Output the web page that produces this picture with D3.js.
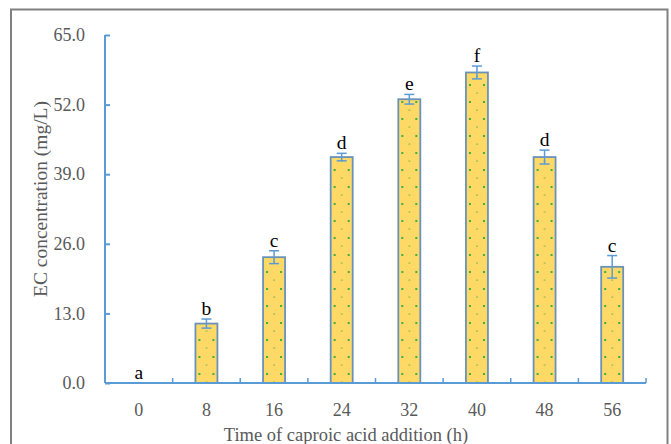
<!DOCTYPE html>
<html><head><meta charset="utf-8">
<script src="https://cdn.jsdelivr.net/npm/d3@7"></script>
<style>body{margin:0;background:#fff}svg{display:block}
text{font-family:"Liberation Serif","Times New Roman","DejaVu Serif",serif !important;}</style>
</head><body>
<svg id="c" width="671" height="444"></svg>
<script>
const categories = ["0","8","16","24","32","40","48","56"];
const values = [0, 11.1, 23.5, 42.2, 53.0, 58.0, 42.2, 21.7];
const errors = [0, 0.85, 1.2, 0.7, 0.9, 1.2, 1.3, 2.1];
const letters = ["a","b","c","d","e","f","d","c"];
const yTicks = [0, 13, 26, 39, 52, 65];
const xTitle = "Time of caproic acid addition (h)";
const yTitle = "EC concentration (mg/L)";

const svg = d3.select("#c");
const L = 105, R = 646, T = 35, B = 383;
const font = "Liberation Serif";
const axisColor = "#5B9BD5", textGray = "#595959";

// frame
svg.append("rect").attr("x",11).attr("y",9.5).attr("width",656.5).attr("height",450)
  .attr("fill","none").attr("stroke","#808080").attr("stroke-width",2);

const x = d3.scaleBand().domain(categories).range([L,R]).paddingInner(0).paddingOuter(0);
const y = d3.scaleLinear().domain([0,65]).range([B,T]);
const barW = 22;

const defs = svg.append("defs");
categories.forEach((c,i)=>{
  const bx = x(c)+x.bandwidth()/2-barW/2;
  const p = defs.append("pattern").attr("id","pat"+i).attr("patternUnits","userSpaceOnUse")
    .attr("x",bx).attr("y",B).attr("width",barW).attr("height",17);
  p.append("rect").attr("width",barW).attr("height",17).attr("fill","#FFD966");
  p.append("rect").attr("x",3).attr("y",7).attr("width",2).attr("height",2).attr("fill","#3DAE49");
  p.append("rect").attr("x",barW-5).attr("y",7).attr("width",2).attr("height",2).attr("fill","#3DAE49");
  p.append("rect").attr("x",10.5).attr("y",15.5).attr("width",1.2).attr("height",1.2).attr("fill","#3DAE49");
});

// bars
svg.selectAll("rect.bar").data(values).enter().append("rect").attr("class","bar")
  .attr("x",(d,i)=>x(categories[i])+x.bandwidth()/2-barW/2)
  .attr("y",d=>y(d)).attr("width",barW).attr("height",d=>B-y(d))
  .attr("fill",(d,i)=>"url(#pat"+i+")")
  .attr("stroke",(d)=>d>0?"#6A92B8":"none").attr("stroke-width",1.8);

// error bars
const eg = svg.append("g").attr("stroke",axisColor).attr("stroke-width",1.5);
values.forEach((v,i)=>{
  if(errors[i]<=0) return;
  const cx = x(categories[i])+x.bandwidth()/2;
  eg.append("line").attr("x1",cx).attr("x2",cx).attr("y1",y(v+errors[i])).attr("y2",y(v-errors[i]));
  eg.append("line").attr("x1",cx-5).attr("x2",cx+5).attr("y1",y(v+errors[i])).attr("y2",y(v+errors[i]));
  eg.append("line").attr("x1",cx-5).attr("x2",cx+5).attr("y1",y(v-errors[i])).attr("y2",y(v-errors[i]));
});

// letters
svg.selectAll("text.let").data(letters).enter().append("text").attr("class","let")
  .attr("x",(d,i)=>x(categories[i])+x.bandwidth()/2)
  .attr("y",(d,i)=>y(values[i]+errors[i])-4)
  .attr("text-anchor","middle").attr("font-family",font).attr("font-size",19.5).attr("fill","#000")
  .text(d=>d);

// y axis
const ya = svg.append("g").attr("transform",`translate(${L},0)`)
  .call(d3.axisLeft(y).tickValues(yTicks).tickSize(-5).tickPadding(20).tickFormat(d3.format(".1f")));
ya.select(".domain").attr("stroke",axisColor).attr("stroke-width",2).attr("d",`M0,${T}V${B}`);
ya.selectAll(".tick line").attr("stroke",axisColor).attr("stroke-width",2);
ya.selectAll(".tick text").attr("font-family",font).attr("font-size",18).attr("fill",textGray);

// x axis
const xa = svg.append("g").attr("transform",`translate(0,${B})`)
  .call(d3.axisBottom(x).tickSize(0).tickPadding(20));
xa.select(".domain").attr("stroke",axisColor).attr("stroke-width",2).attr("d",`M${L},0H${R}`);
xa.selectAll(".tick text").attr("font-family",font).attr("font-size",18).attr("fill",textGray);
const bounds = categories.slice(1).map(c=>x(c)).concat([R]);
xa.selectAll("line.bt").data(bounds).enter().append("line").attr("class","bt")
  .attr("x1",d=>d).attr("x2",d=>d).attr("y1",0).attr("y2",-5)
  .attr("stroke",axisColor).attr("stroke-width",1.5);

// titles
svg.append("text").attr("x",346).attr("y",441).attr("text-anchor","middle")
  .attr("font-family",font).attr("font-size",18.5).attr("fill",textGray).text(xTitle);
svg.append("text").attr("transform",`translate(47,199) rotate(-90)`).attr("text-anchor","middle")
  .attr("font-family",font).attr("font-size",19.5).attr("fill",textGray).text(yTitle);
</script>
</body></html>
